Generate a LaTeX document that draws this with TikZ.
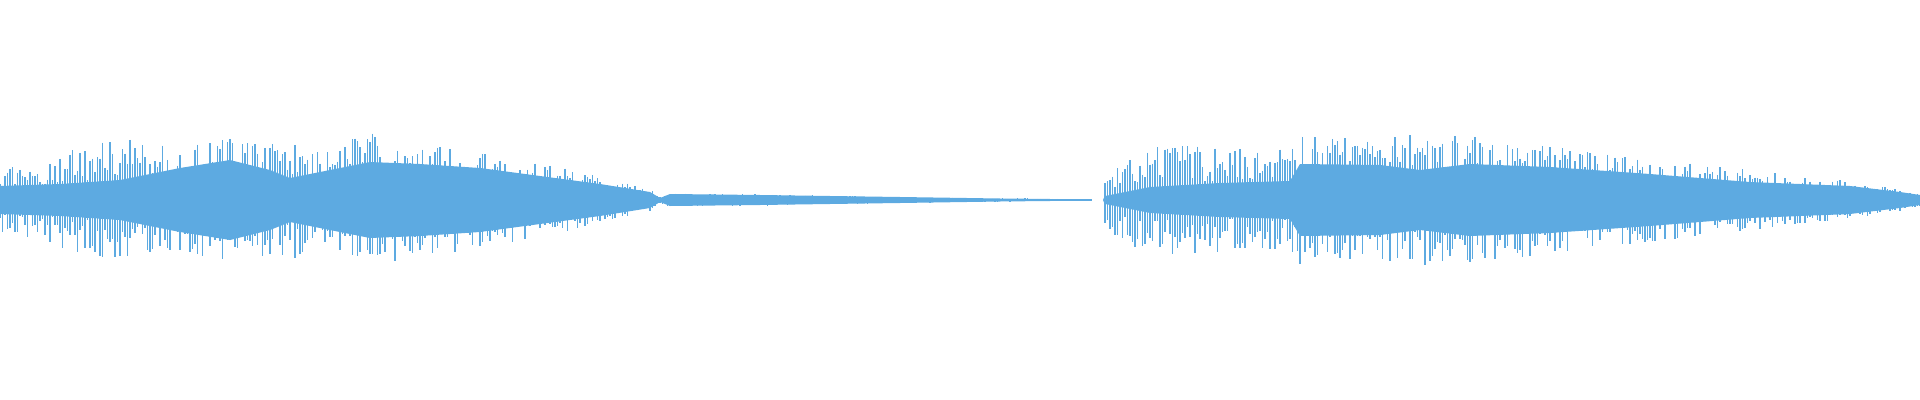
\documentclass[tikz,border=0pt]{standalone}
\definecolor{wave}{RGB}{93,170,225}
\tikzset{spike/.style={draw=wave, line width=0.35pt}, core/.style={fill=wave}}
\begin{document}
\begin{tikzpicture}[x=0.01cm,y=-0.01cm]
\pgfmathsetseed{42}
\useasboundingbox (0,0) rectangle (1920,400);
% dense middle of the waveform
\foreach \xa/\ca/\sa/\xb/\cb/\sb in {0/14/32/60/16/48, 60/16/48/120/20/62, 120/20/62/180/32/52,
  180/32/52/230/40/62, 230/40/62/270/30/56, 270/30/56/290/22/60, 290/22/60/320/28/48,
  320/28/48/370/38/68, 370/38/68/420/36/58, 420/36/58/480/32/48, 480/32/48/540/24/37,
  540/24/37/600/16/24, 600/16/24/650/8/11, 650/8/11/660/2/3, 660/2/3/670/6/7,
  670/6/7/760/5/6, 760/5/6/900/3/3, 900/3/3/1000/1.5/2, 1000/1.5/2/1090/0.6/0.6,
  1105/4/30/1150/13/56, 1150/13/56/1220/17/52, 1220/17/52/1290/19/50, 1290/19/50/1300/36/64,
  1300/36/64/1380/35/60, 1380/35/60/1420/30/70, 1420/30/70/1470/36/64, 1470/36/64/1550/33/54,
  1550/33/54/1650/26/42, 1650/26/42/1750/18/30, 1750/18/30/1850/14/19, 1850/14/19/1900/8/11,
  1900/8/11/1920/5/6}{
  \fill[core] (\xa,200-\ca) -- (\xb,200-\cb) -- (\xb,200+\cb) -- (\xa,200+\ca) -- cycle;
  \pgfmathsetmacro{\xn}{\xa+2.5}
  \foreach \x in {\xa,\xn,...,\xb}{
    \pgfmathsetmacro{\s}{\sa+(\sb-\sa)*(\x-\xa)/(\xb-\xa)}
    \pgfmathsetmacro{\up}{\s*(0.35+0.65*rnd)}
    \pgfmathsetmacro{\dn}{\s*(0.35+0.65*rnd)}
    \draw[spike] (\x,200-\up) -- (\x,200+\dn);
  }
}
% flat line across the silence
\coordinate (qa) at (660,200);
\coordinate (qb) at (1092,200);
\draw[spike] (qa) -- (qb);
\fill[core] (1107,200) circle (4);
\end{tikzpicture}
\end{document}
